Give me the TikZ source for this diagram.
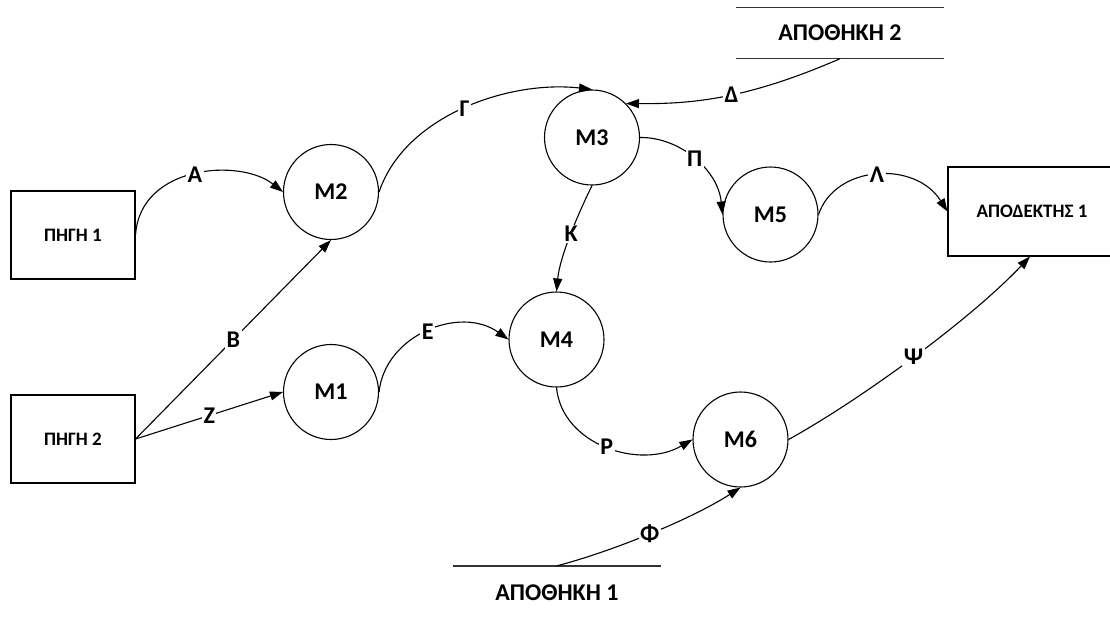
\documentclass[tikz,border=0pt]{standalone}
\usepackage{fontspec}
\setmainfont{Carlito}
\usetikzlibrary{arrows.meta}
\begin{document}
\begin{tikzpicture}[x=1pt,y=-1pt,
  proc/.style={circle,draw,line width=1.1pt,minimum size=95pt,inner sep=0pt,
    font=\bfseries\fontsize{24}{28}\selectfont},
  ext/.style={rectangle,draw,line width=1.1pt,inner sep=0pt,
    font=\bfseries\fontsize{19}{22}\selectfont},
  store/.style={inner sep=0pt,minimum width=208pt,
    font=\bfseries\fontsize{24}{28}\selectfont},
  storeline/.style={line width=1.5pt,draw=black!80},
  flow/.style={line width=1.1pt,-{Triangle[length=13pt,width=9pt]}},
  lbl/.style={fill=white,inner sep=1.5pt,font=\bfseries\fontsize{24}{28}\selectfont}]
\useasboundingbox (0,0) rectangle (1110,616);
\clip (0,0) rectangle (1110,616);

% external entities
\node[ext,minimum width=124pt,minimum height=88pt] (p1) at (73,235) {ΠΗΓΗ 1};
\node[ext,minimum width=124pt,minimum height=88pt] (p2) at (73,439) {ΠΗΓΗ 2};
\node[ext,minimum width=168pt,minimum height=89pt] (d1) at (1032,211.5) {ΑΠΟΔΕΚΤΗΣ 1};

% processes
\node[proc] (m1) at (331,392) {M1};
\node[proc] (m2) at (331,192) {M2};
\node[proc] (m3) at (592,137.5) {M3};
\node[proc] (m4) at (556.5,339.5) {M4};
\node[proc] (m5) at (770.5,214.5) {M5};
\node[proc] (m6) at (740.5,439.5) {M6};

% data stores
\node[store,minimum height=51pt] (s2) at (840,33) {ΑΠΟΘΗΚΗ 2};
\draw[storeline] (s2.north west) -- (s2.north east) (s2.south west) -- (s2.south east);
\node[store,minimum height=54pt] (s1) at (557,593) {ΑΠΟΘΗΚΗ 1};
\draw[storeline] (s1.north west) -- (s1.north east);

% data flows
\draw[flow] (p1.east) .. controls (140,165) and (240,158) .. node[lbl,pos=0.5]{Α} (m2.west);
\draw[flow] (p2.east) -- node[lbl,pos=0.5]{Β} (m2.south);
\draw[flow] (p2.east) -- node[lbl,pos=0.5]{Ζ} (m1.west);
\draw[flow] (m2.east) .. controls (405,115) and (510,80) .. node[lbl,pos=0.5]{Γ} (m3.north);
\draw[flow] (s2.south) .. controls (745,100) and (690,104) .. node[lbl,pos=0.45]{Δ} (m3.45);
\draw[flow] (m3.east) .. controls (680,137) and (718,170) .. node[lbl,pos=0.5]{Π} (m5.west);
\draw[flow] (m5.east) .. controls (835,165) and (915,160) .. node[lbl,pos=0.5]{Λ} (d1.west);
\draw[flow] (m3.south) .. controls (580,210) and (560,255) .. node[lbl,pos=0.5]{Κ} (m4.north);
\draw[flow] (m1.east) .. controls (385,335) and (460,305) .. node[lbl,pos=0.5]{Ε} (m4.west);
\draw[flow] (m4.south) .. controls (562,445) and (640,470) .. node[lbl,pos=0.5]{Ρ} (m6.west);
\draw[flow] (s1.north) .. controls (610,552) and (690,520) .. node[lbl,pos=0.5]{Φ} (m6.south);
\draw[flow] (m6.east) .. controls (860,400) and (970,320) .. node[lbl,pos=0.5]{Ψ} ([xshift=-2pt]d1.south);
\end{tikzpicture}
\end{document}
